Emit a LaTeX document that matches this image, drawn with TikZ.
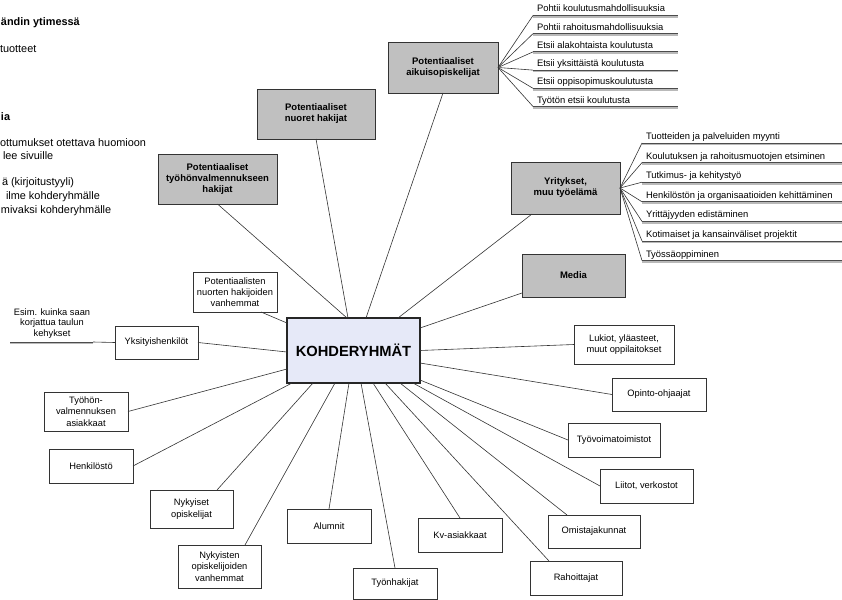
\documentclass[tikz,border=0pt]{standalone}
\usepackage{fontspec}
\setmainfont{Liberation Sans}
\usetikzlibrary{calc}
\definecolor{boxgray}{HTML}{C0C0C0}
\definecolor{centerfill}{HTML}{E6E9F8}
\definecolor{edgec}{HTML}{333333}
\begin{document}
\begin{tikzpicture}[x=1pt,y=-1pt,
  every node/.style={inner sep=0pt, outer sep=0pt},
  gbox/.style={draw=edgec, fill=boxgray, line width=0.9pt, align=center, font=\fontsize{9.5}{11}\selectfont\bfseries},
  wbox/.style={draw=edgec, fill=white, line width=0.8pt, align=center, font=\fontsize{9.3}{11.3}\selectfont},
  cbox/.style={draw=black!85, fill=centerfill, line width=1.4pt, font=\fontsize{14.7}{16}\selectfont\bfseries},
  conn/.style={draw=black!80, line width=0.6pt},
  ushadow/.style={draw=gray!55, line width=2pt},
  utop/.style={draw=black!70, line width=0.8pt},
  item/.style={anchor=base west, font=\fontsize{9.4}{11}\selectfont},
  note/.style={anchor=west, font=\fontsize{10.9}{12}\selectfont},
]
\useasboundingbox (0,0) rectangle (842,599);

% notes at top left
\node[note] (n1) at (1,23) {\bfseries ändin ytimessä};
\node[note] (n2) at (0,49) {tuotteet};
\node[note] (n3) at (1,117) {\bfseries ia};
\node[note] (n4) at (0,143) {ottumukset otettava huomioon};
\node[note] (n5) at (3,156) {lee sivuille};
\node[note] (n6) at (2,183) {ä (kirjoitustyyli)};
\node[note] (n7) at (6,197) {ilme kohderyhmälle};
\node[note] (n8) at (1,211) {mivaksi kohderyhmälle};

% central node
\node[cbox, minimum width=133pt, minimum height=65pt] (center) at (353.5,350.5) {KOHDERYHMÄT};

% gray boxes
\node[gbox, minimum width=110pt, minimum height=51pt] (aik) at (443,67.5) {Potentiaaliset\\aikuisopiskelijat};
\node[gbox, minimum width=118pt, minimum height=50pt] (nuo) at (316,114) {Potentiaaliset\\nuoret hakijat};
\node[gbox, minimum width=119pt, minimum height=50pt] (tyh) at (217.5,179) {Potentiaaliset\\työhönvalmennukseen\\hakijat};
\node[gbox, minimum width=109pt, minimum height=52pt] (yri) at (565.5,188) {Yritykset,\\muu työelämä};
\node[gbox, minimum width=103pt, minimum height=43pt] (med) at (573.5,275.5) {Media};

% white boxes
\node[wbox, minimum width=84pt, minimum height=40pt] (pnh) at (235,292) {Potentiaalisten\\nuorten hakijoiden\\vanhemmat};
\node[wbox, minimum width=83pt, minimum height=33pt] (yks) at (156.5,342.5) {Yksityishenkilöt};
\node[wbox, minimum width=84pt, minimum height=39pt] (tva) at (86,411.5) {Työhön-\\valmennuksen\\asiakkaat};
\node[wbox, minimum width=84pt, minimum height=34pt] (hen) at (91,466) {Henkilöstö};
\node[wbox, minimum width=83pt, minimum height=38pt] (nyk) at (191.5,509) {Nykyiset\\opiskelijat};
\node[wbox, minimum width=83pt, minimum height=43pt] (nyv) at (219.5,566.5) {Nykyisten\\opiskelijoiden\\vanhemmat};
\node[wbox, minimum width=84pt, minimum height=34pt] (alu) at (329,526) {Alumnit};
\node[wbox, minimum width=84pt, minimum height=31pt] (tyo) at (395,583.5) {Työnhakijat};
\node[wbox, minimum width=84pt, minimum height=34pt] (kva) at (460,535) {Kv-asiakkaat};
\node[wbox, minimum width=92pt, minimum height=34pt] (rah) at (576,578) {Rahoittajat};
\node[wbox, minimum width=92pt, minimum height=33pt] (omi) at (594,531.5) {Omistajakunnat};
\node[wbox, minimum width=93pt, minimum height=34pt] (lii) at (646.5,486) {Liitot, verkostot};
\node[wbox, minimum width=92pt, minimum height=34pt] (tyv) at (614,440) {Työvoimatoimistot};
\node[wbox, minimum width=94pt, minimum height=33pt] (opi) at (659,394.5) {Opinto-ohjaajat};
\node[wbox, minimum width=100pt, minimum height=39pt] (luk) at (624,344.5) {Lukiot, yläasteet,\\muut oppilaitokset};

% connectors to the centre
\draw[conn] (nuo.south) -- ([xshift=61pt]center.north west);
\draw[conn] (aik.south) -- ([xshift=79pt]center.north west);
\draw[conn] (tyh.south) -- ([xshift=60pt]center.north west);
\draw[conn] ([xshift=21pt]yri.south west) -- ([xshift=111pt]center.north west);
\draw[conn] ([yshift=4pt]med.south west) -- ([yshift=-10pt]center.north east);
\draw[conn] ([xshift=-16pt]pnh.south east) -- ([yshift=-5pt]center.north west);
\draw[conn] (yks.east) -- ([yshift=-1.5pt]center.west);
\draw[conn] (tva.east) -- ([yshift=14pt]center.south west);
\draw[conn] (hen.east) -- ([xshift=5pt]center.south west);
\draw[conn] ([xshift=-16pt]nyk.north east) -- ([xshift=26pt]center.south west);
\draw[conn] ([xshift=-16pt]nyv.north east) -- ([xshift=48pt]center.south west);
\draw[conn] (alu.north) -- ([xshift=62pt]center.south west);
\draw[conn] (tyo.north) -- ([xshift=74pt]center.south west);
\draw[conn] (kva.north) -- ([xshift=86pt]center.south west);
\draw[conn] ([xshift=19pt]rah.north west) -- ([xshift=98pt]center.south west);
\draw[conn] ([xshift=19pt]omi.north west) -- ([xshift=113pt]center.south west);
\draw[conn] (lii.west) -- ([xshift=126pt]center.south west);
\draw[conn] (tyv.west) -- ([yshift=3pt]center.south east);
\draw[conn] (opi.west) -- ([yshift=-12.5pt]center.east);
\draw[conn] (luk.west) -- (center.east);

% list of aikuisopiskelijat
\foreach \i/\t in {0/Pohtii koulutusmahdollisuuksia,1/Pohtii rahoitusmahdollisuuksia,2/Etsii alakohtaista koulutusta,3/Etsii yksittäistä koulutusta,4/Etsii oppisopimuskoulutusta,5/Työtön etsii koulutusta}{
  \coordinate (a\i) at (533,{15.5+18.2*\i});
  \draw[ushadow] ($(a\i)+(0,1.3)$) -- ++(145,0);
  \draw[utop] (a\i) -- ++(145,0);
  \node[item] (at\i) at ($(a\i)+(4,-3.5)$) {\t};
  \draw[conn] (aik.east) -- (a\i);
}

% list of yritykset
\foreach \i/\t in {0/Tuotteiden ja palveluiden myynti,1/Koulutuksen ja rahoitusmuotojen etsiminen,2/Tutkimus- ja kehitystyö,3/Henkilöstön ja organisaatioiden kehittäminen,4/Yrittäjyyden edistäminen,5/Kotimaiset ja kansainväliset projektit,6/Työssäoppiminen}{
  \coordinate (y\i) at (642,{143+19.6*\i});
  \draw[ushadow] ($(y\i)+(0,1.3)$) -- ++(202,0);
  \draw[utop] (y\i) -- ++(202,0);
  \node[item] (yt\i) at ($(y\i)+(4,-3.5)$) {\t};
  \draw[conn] (yri.east) -- (y\i);
}

% yksityishenkilöt example
\coordinate (e1) at (93,342);
\draw[ushadow] ($(e1)+(0,1.3)$) -- ++(-83,0);
\draw[utop] (e1) -- ++(-83,0);
\node[align=center, font=\fontsize{9.3}{10.7}\selectfont] (esim) at (52,323.5) {Esim. kuinka saan\\korjattua taulun\\kehykset};
\draw[conn] (e1) -- (yks.west);
\end{tikzpicture}
\end{document}
